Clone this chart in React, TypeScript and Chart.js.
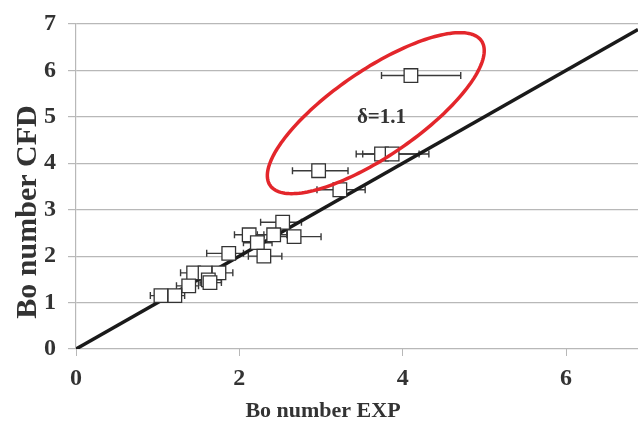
import React, { useEffect, useRef } from "react";
import { Chart, registerables } from "chart.js";

Chart.register(...registerables);

// Experimental Bo number (x) vs CFD Bo number (y)
const boExp = [4.10, 2.97, 3.23, 3.74, 3.87, 2.53, 2.12, 2.42, 2.67, 2.22, 1.87, 2.30, 1.44, 1.58, 1.75, 1.62, 1.64, 1.38, 1.04, 1.21];
const boCfd = [5.89, 3.84, 3.43, 4.20, 4.20, 2.73, 2.46, 2.46, 2.42, 2.29, 2.06, 2.00, 1.64, 1.64, 1.64, 1.49, 1.43, 1.36, 1.15, 1.15];
// horizontal error bar limits (EXP)
const errLow = [3.74, 2.65, 2.95, 3.43, 3.51, 2.26, 1.94, 2.22, 2.50, 2.05, 1.60, 2.11, 1.28, 1.45, 1.60, 1.50, 1.52, 1.23, 0.91, 1.10];
const errHigh = [4.71, 3.33, 3.54, 4.20, 4.32, 2.76, 2.30, 2.58, 3.00, 2.40, 2.05, 2.52, 1.58, 1.72, 1.92, 1.78, 1.78, 1.50, 1.15, 1.33];

// parity line y = x
const parityX = [0, 6.88];
const parityY = [0, 6.88];

const xTicks = [0, 2, 4, 6];
const yTicks = [0, 1, 2, 3, 4, 5, 6, 7];

// highlighted region (ellipse in data units: centre, conjugate semi-axes)
const ellipseCenter = [3.67, 5.08];
const ellipseMajor = [1.294, 1.556];
const ellipseMinor = [0.297, -0.765];
const annotationText = "δ=1.1";
const annotationPos = [3.74, 4.99];

const xTitle = "Bo number EXP";
const yTitle = "Bo number CFD";

const FONT = "'Liberation Serif', 'Times New Roman', serif";
const TEXT = "#333333";
const GRID = "#b8b8b8";

export default function App() {
  const ref = useRef<HTMLCanvasElement>(null);
  useEffect(() => {
    if (!ref.current) return;
    const overlay = {
      id: "overlay",
      beforeDatasetsDraw(chart: any) {
        const { ctx, scales } = chart;
        const xs = scales.x, ys = scales.y;
        ctx.save();
        ctx.strokeStyle = "#3a3a3a";
        ctx.lineWidth = 1.4;
        for (let i = 0; i < boExp.length; i++) {
          const py = ys.getPixelForValue(boCfd[i]);
          const x1 = xs.getPixelForValue(errLow[i]);
          const x2 = xs.getPixelForValue(errHigh[i]);
          ctx.beginPath();
          ctx.moveTo(x1, py);
          ctx.lineTo(x2, py);
          ctx.moveTo(x1, py - 3.5);
          ctx.lineTo(x1, py + 3.5);
          ctx.moveTo(x2, py - 3.5);
          ctx.lineTo(x2, py + 3.5);
          ctx.stroke();
        }
        ctx.restore();
      },
      afterDatasetsDraw(chart: any) {
        const { ctx, scales } = chart;
        const xs = scales.x, ys = scales.y;
        ctx.save();
        const cx = xs.getPixelForValue(ellipseCenter[0]);
        const cy = ys.getPixelForValue(ellipseCenter[1]);
        const ax = xs.getPixelForValue(ellipseCenter[0] + ellipseMajor[0]) - cx;
        const ay = ys.getPixelForValue(ellipseCenter[1] + ellipseMajor[1]) - cy;
        const bx = xs.getPixelForValue(ellipseCenter[0] + ellipseMinor[0]) - cx;
        const by = ys.getPixelForValue(ellipseCenter[1] + ellipseMinor[1]) - cy;
        ctx.beginPath();
        const N = 180;
        for (let k = 0; k <= N; k++) {
          const t = (k / N) * Math.PI * 2;
          const px = cx + ax * Math.cos(t) + bx * Math.sin(t);
          const py = cy + ay * Math.cos(t) + by * Math.sin(t);
          if (k === 0) ctx.moveTo(px, py);
          else ctx.lineTo(px, py);
        }
        ctx.closePath();
        ctx.strokeStyle = "#e3262b";
        ctx.lineWidth = 3.5;
        ctx.stroke();

        ctx.fillStyle = TEXT;
        ctx.font = `bold 21px ${FONT}`;
        ctx.textAlign = "center";
        ctx.textBaseline = "middle";
        ctx.fillText(annotationText, xs.getPixelForValue(annotationPos[0]), ys.getPixelForValue(annotationPos[1]));

        // axis titles
        ctx.font = `bold 22px ${FONT}`;
        ctx.textBaseline = "alphabetic";
        ctx.fillText(xTitle, 323, 417);
        ctx.font = `bold 30px ${FONT}`;
        ctx.translate(36, 212);
        ctx.rotate(-Math.PI / 2);
        ctx.fillText(yTitle, 0, 0);
        ctx.restore();
      },
    };

    const chart = new Chart(ref.current, {
      type: "scatter",
      data: {
        datasets: [
          {
            data: boExp.map((x, i) => ({ x, y: boCfd[i] })),
            pointStyle: "rect",
            pointRadius: 9.6,
            pointBackgroundColor: "#ffffff",
            pointBorderColor: "#333333",
            pointBorderWidth: 1.3,
            showLine: false,
          },
          {
            data: parityX.map((x, i) => ({ x, y: parityY[i] })),
            showLine: true,
            borderColor: "#1a1a1a",
            borderWidth: 3.5,
            pointRadius: 0,
          },
        ],
      },
      options: {
        animation: false,
        responsive: true,
        maintainAspectRatio: false,
        layout: { autoPadding: false, padding: { top: 24, right: 0, left: 0, bottom: 0 } },
        plugins: { legend: { display: false }, tooltip: { enabled: false } },
        scales: {
          x: {
            type: "linear",
            min: 0,
            max: 6.88,
            afterBuildTicks: (s: any) => {
              s.ticks = xTicks.map((v) => ({ value: v }));
            },
            afterFit: (s: any) => {
              s.height = 72;
              s.paddingRight = 0;
              s.paddingLeft = 0;
            },
            grid: { drawOnChartArea: false, color: GRID, tickLength: 7 },
            border: { display: false },
            ticks: {
              color: TEXT,
              font: { family: FONT, size: 24, weight: "bold" },
              padding: 8,
              maxRotation: 0,
            },
          },
          y: {
            type: "linear",
            min: 0,
            max: 7,
            afterBuildTicks: (s: any) => {
              s.ticks = yTicks.map((v) => ({ value: v }));
            },
            afterFit: (s: any) => {
              s.width = 76;
              s.paddingTop = 0;
              s.paddingBottom = 0;
            },
            grid: { color: GRID, tickLength: 8, lineWidth: 1.2 },
            border: { color: GRID, width: 1.2 },
            ticks: {
              color: TEXT,
              font: { family: FONT, size: 24, weight: "bold" },
              padding: 12,
            },
          },
        },
      },
      plugins: [overlay],
    });
    return () => chart.destroy();
  }, []);

  return (
    <div style={{ position: "fixed", left: 0, top: 0, width: 638, height: 421, background: "#fff" }}>
      <canvas ref={ref} />
    </div>
  );
}
